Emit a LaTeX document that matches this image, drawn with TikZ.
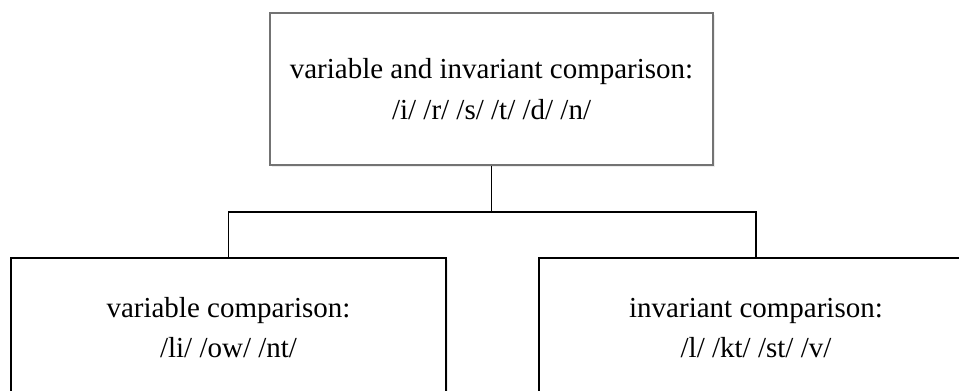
\documentclass[tikz,border=0pt]{standalone}
\usepackage{fontspec}
\setmainfont{Liberation Serif}
\usetikzlibrary{shadows}
\tikzset{
  topbox/.style={draw=black!55, line width=1.5pt, fill=white, inner sep=0pt, align=center,
    font=\fontsize{29}{41}\selectfont,
    drop shadow={opacity=0.15, shadow xshift=2pt, shadow yshift=-2pt}},
  subbox/.style={draw=black, line width=2pt, fill=white, inner sep=0pt, align=center,
    font=\fontsize{29}{40}\selectfont,
    drop shadow={opacity=0.15, shadow xshift=2pt, shadow yshift=-2pt}},
  link/.style={draw=black, line width=1.9pt}
}
\begin{document}
\begin{tikzpicture}[x=1pt,y=-1pt]
\useasboundingbox (0,0) rectangle (959,391);
\clip (0,0) rectangle (959,391);
\fill[white] (0,0) rectangle (959,391);
\node[topbox, minimum width=443pt, minimum height=152pt] (top) at (491.5,89)
  {variable and invariant comparison:\\/i/ /r/ /s/ /t/ /d/ /n/};
\node[subbox, minimum width=435pt, minimum height=140pt] (left) at (228.5,328)
  {variable comparison:\\/li/ /ow/ /nt/};
\node[subbox, minimum width=434pt, minimum height=140pt] (right) at (756,328)
  {invariant comparison:\\/l/ /kt/ /st/ /v/};
\coordinate (mid) at (491.5,212);
\draw[link] (top.south) -- (mid);
\draw[link] (left.north) |- (mid) -| (right.north);
\end{tikzpicture}
\end{document}
